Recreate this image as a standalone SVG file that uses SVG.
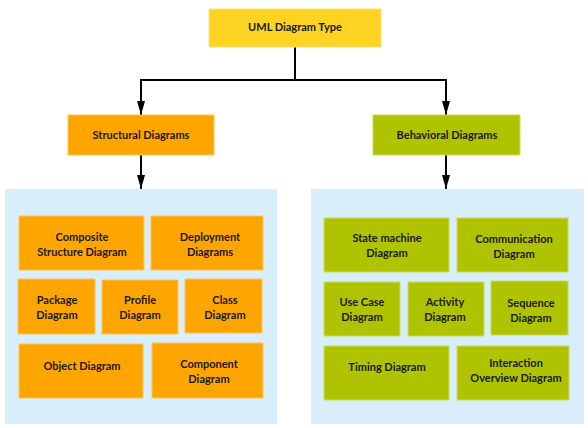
<svg xmlns="http://www.w3.org/2000/svg" width="588" height="428" viewBox="0 0 588 428">
<defs>
<style>
.t{font-family:Lato,"Open Sans","Liberation Sans",sans-serif;font-size:11px;font-weight:bold;fill:#1a1a1a;text-anchor:middle;dominant-baseline:central}
.y{fill:#fcd323;stroke:#fde27a;stroke-width:1}
.o{fill:#ffa500;stroke:#ffc45a;stroke-width:1}
.g{fill:#afc300;stroke:#cbd960;stroke-width:1}
.p{fill:#d8eefa}
.c{fill:none;stroke:#000;stroke-width:2}
</style>
<marker id="ah" viewBox="0 0 14 8" refX="14" refY="4" markerWidth="14" markerHeight="8" markerUnits="userSpaceOnUse" orient="auto">
<path d="M0,0 L14,4 L0,8 Z" fill="#000"/>
</marker>
</defs>
<rect x="0" y="0" width="588" height="428" fill="#fff"/>
<g id="panel-structural"><rect class="p" x="5" y="189" width="272" height="235"/></g>
<g id="panel-behavioral"><rect class="p" x="311" y="189" width="273" height="235"/></g>
<g id="connectors">
<path class="c" d="M295,47 V80 H141 V115" marker-end="url(#ah)"/>
<path class="c" d="M295,47 V80 H446 V115" marker-end="url(#ah)"/>
<path class="c" d="M141,155 V189" marker-end="url(#ah)"/>
<path class="c" d="M446,155 V189" marker-end="url(#ah)"/>
</g>
<g id="uml"><rect class="y" x="209" y="9" width="172" height="38"/><text class="t" x="295" y="26">UML Diagram Type</text></g>
<g id="structural"><rect class="o" x="68" y="115" width="146" height="40"/><text class="t" x="141" y="134">Structural Diagrams</text></g>
<g id="behavioral"><rect class="g" x="373" y="115" width="147" height="40"/><text class="t" x="447" y="134">Behavioral Diagrams</text></g>
<g id="composite"><rect class="o" x="19" y="216" width="125" height="54"/><text class="t" x="82" y="236">Composite</text><text class="t" x="82" y="251">Structure Diagram</text></g>
<g id="deployment"><rect class="o" x="151" y="216" width="112" height="54"/><text class="t" x="210" y="236">Deployment</text><text class="t" x="210" y="251">Diagrams</text></g>
<g id="package"><rect class="o" x="18" y="279" width="77" height="55"/><text class="t" x="57" y="299">Package</text><text class="t" x="57" y="314">Diagram</text></g>
<g id="profile"><rect class="o" x="102" y="280" width="76" height="54"/><text class="t" x="140" y="299">Profile</text><text class="t" x="140" y="314">Diagram</text></g>
<g id="class"><rect class="o" x="185" y="279" width="77" height="54"/><text class="t" x="225" y="299">Class</text><text class="t" x="225" y="314">Diagram</text></g>
<g id="object"><rect class="o" x="19" y="344" width="124" height="54"/><text class="t" x="82" y="365">Object Diagram</text></g>
<g id="component"><rect class="o" x="152" y="343" width="111" height="55"/><text class="t" x="209" y="363">Component</text><text class="t" x="209" y="378">Diagram</text></g>
<g id="statemachine"><rect class="g" x="324" y="218" width="125" height="54"/><text class="t" x="387" y="237">State machine</text><text class="t" x="387" y="252">Diagram</text></g>
<g id="communication"><rect class="g" x="457" y="218" width="111" height="54"/><text class="t" x="514" y="238">Communication</text><text class="t" x="514" y="253">Diagram</text></g>
<g id="usecase"><rect class="g" x="324" y="282" width="76" height="54"/><text class="t" x="362" y="301">Use Case</text><text class="t" x="362" y="316">Diagram</text></g>
<g id="activity"><rect class="g" x="408" y="282" width="76" height="54"/><text class="t" x="445" y="301">Activity</text><text class="t" x="445" y="316">Diagram</text></g>
<g id="sequence"><rect class="g" x="491" y="281" width="77" height="54"/><text class="t" x="531" y="302">Sequence</text><text class="t" x="531" y="317">Diagram</text></g>
<g id="timing"><rect class="g" x="324" y="346" width="125" height="54"/><text class="t" x="387" y="366">Timing Diagram</text></g>
<g id="interaction"><rect class="g" x="457" y="346" width="112" height="54"/><text class="t" x="516" y="362">Interaction</text><text class="t" x="516" y="377">Overview Diagram</text></g>
</svg>
